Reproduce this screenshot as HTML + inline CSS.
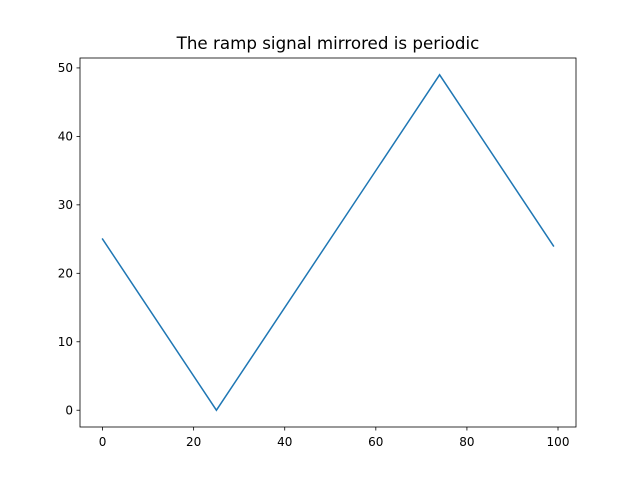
<!DOCTYPE html>
<html><head><meta charset="utf-8"><style>
body{margin:0;background:#fff}
svg{display:block;font-family:"DejaVu Sans","Liberation Sans",sans-serif}
</style></head><body>
<svg id="chart" width="640" height="480">
<rect width="640" height="480" fill="#fff"/>
<text x="328" y="49" text-anchor="middle" font-size="16.7" fill="#000">The ramp signal mirrored is periodic</text>
<g id="plot"></g>
</svg>
<script>
const xValues = [0, 25, 74, 99];
const yValues = [25, 0, 49, 24];
const xTicks = [0, 20, 40, 60, 80, 100];
const yTicks = [0, 10, 20, 30, 40, 50];

const L = 80, R = 576, T = 58, B = 427;
const xmin = -4.95, xmax = 103.95, ymin = -2.45, ymax = 51.45;
function sx(v){ return L + (v - xmin) / (xmax - xmin) * (R - L); }
function sy(v){ return B - (v - ymin) / (ymax - ymin) * (B - T); }
const NS = "http://www.w3.org/2000/svg";
const g = document.getElementById('plot');
function mk(tag, attrs){ const e = document.createElementNS(NS, tag); for (const k in attrs) e.setAttribute(k, attrs[k]); g.appendChild(e); return e; }

const line = mk('polyline', {points: xValues.map((x,i)=>sx(x)+','+sy(yValues[i])).join(' '), fill:'none', stroke:'#1f77b4', 'stroke-width':1.5, 'stroke-linecap':'square'});



const frame = mk('rect', {x:L, y:T, width:R-L, height:B-T, fill:'none', stroke:'#000', 'stroke-width':0.8});



xTicks.forEach(t => {
  const x = sx(t);
  const tk = mk('line', {x1:x, x2:x, y1:B, y2:B+3.5, stroke:'#000', 'stroke-width':0.8});
  
  
  const lb = mk('text', {x:x, y:B+19, 'text-anchor':'middle', 'font-size':'12px', fill:'#000'});
  lb.textContent = t;
  
  
});
yTicks.forEach(t => {
  const y = sy(t);
  const tk = mk('line', {x1:L-3.5, x2:L, y1:y, y2:y, stroke:'#000', 'stroke-width':0.8});
  
  
  const lb = mk('text', {x:L-7, y:y+4.3, 'text-anchor':'end', 'font-size':'12px', fill:'#000'});
  lb.textContent = t;
  
  
});
</script>
</body></html>
